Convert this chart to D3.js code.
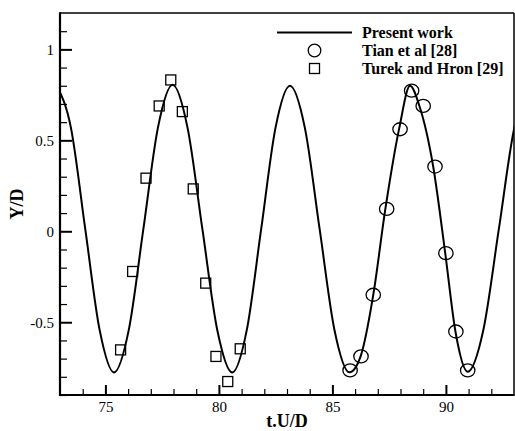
<!DOCTYPE html>
<html>
<head>
<meta charset="utf-8">
<script src="https://cdn.jsdelivr.net/npm/d3@7/dist/d3.min.js"></script>
<style>
  html, body { margin: 0; padding: 0; background: #fff; }
  svg { display: block; }
  text { font-family: "Liberation Serif", "Times New Roman", serif; fill: #000; }
</style>
</head>
<body>
<svg id="chart" width="515" height="431"></svg>
<script>
// Present work: transverse displacement history (t.U/D, Y/D)
const presentT = [72.85, 73.48, 74.115, 74.75, 75.38,
                  76.025, 76.67, 77.315, 77.96,
                  78.6175, 79.275, 79.9325, 80.59,
                  81.225, 81.86, 82.495, 83.13,
                  83.785, 84.44, 85.095, 85.75,
                  86.25, 86.8, 87.33, 87.95, 88.42,
                  88.83, 89.44, 89.97, 90.42, 90.96,
                  91.645, 92.33, 93.015, 93.7];
const presentY = [0.80, 0.57, 0.01, -0.545, -0.776,
                  -0.545, 0.01, 0.57, 0.805,
                  0.57, 0.01, -0.545, -0.776,
                  -0.545, 0.01, 0.57, 0.80,
                  0.57, 0.01, -0.545, -0.775,
                  -0.685, -0.35, 0.12, 0.57, 0.80,
                  0.69, 0.356, -0.12, -0.551, -0.772,
                  -0.545, 0.01, 0.57, 0.80];

// Tian et al [28]
const tianT = [85.78, 86.26, 86.8, 87.39, 87.98, 88.49, 89.0, 89.52, 90.0, 90.44, 90.96];
const tianY = [-0.765, -0.688, -0.349, 0.123, 0.561, 0.773, 0.689, 0.356, -0.12, -0.551, -0.765];

// Turek and Hron [29]
const turekT = [75.67, 76.2, 76.79, 77.37, 77.88, 78.39, 78.87, 79.42, 79.87, 80.39, 80.94];
const turekY = [-0.652, -0.221, 0.292, 0.689, 0.832, 0.658, 0.233, -0.285, -0.688, -0.826, -0.646];

// Axis ticks
const xMajor = [75, 80, 85, 90];
const xMinor = [74, 76, 77, 78, 79, 81, 82, 83, 84, 86, 87, 88, 89, 91, 92];
const yMajor = [-0.5, 0, 0.5, 1];
const yMajorLabels = ["-0.5", "0", "0.5", "1"];
const yMinor = [-0.9, -0.8, -0.7, -0.6, -0.4, -0.3, -0.2, -0.1, 0.1, 0.2, 0.3, 0.4, 0.6, 0.7, 0.8, 0.9, 1.1];

const legendLabels = ["Present work", "Tian et al [28]", "Turek and Hron [29]"];

const svg = d3.select("#chart");
const L = 60, R = 514, T = 13, B = 395;

const x = d3.scaleLinear().domain([73, 93]).range([L, R]);
const y = d3.scaleLinear().domain([-0.9, 1.2]).range([B, T]);

svg.append("defs").append("clipPath").attr("id", "plotArea")
  .append("rect").attr("x", L).attr("y", T).attr("width", R - L).attr("height", B - T);

// minor ticks
svg.append("g").attr("transform", `translate(0,${B})`)
  .call(d3.axisBottom(x).tickValues(xMinor).tickSize(-6).tickFormat(""))
  .call(g => g.select(".domain").remove())
  .call(g => g.selectAll("line").attr("stroke", "#000").attr("stroke-width", 1.2));
svg.append("g").attr("transform", `translate(${L},0)`)
  .call(d3.axisLeft(y).tickValues(yMinor).tickSize(-7).tickFormat(""))
  .call(g => g.select(".domain").remove())
  .call(g => g.selectAll("line").attr("stroke", "#000").attr("stroke-width", 1.2));

// major ticks with labels
svg.append("g").attr("transform", `translate(0,${B})`)
  .call(d3.axisBottom(x).tickValues(xMajor).tickSize(-10).tickPadding(6).tickFormat(d3.format("d")))
  .call(g => g.select(".domain").remove())
  .call(g => g.selectAll("line").attr("stroke", "#000").attr("stroke-width", 2))
  .call(g => g.selectAll("text").attr("font-size", 15).attr("font-family", "Liberation Serif, serif"));
svg.append("g").attr("transform", `translate(${L},0)`)
  .call(d3.axisLeft(y).tickValues(yMajor).tickSize(-12).tickPadding(6)
    .tickFormat(d => yMajorLabels[yMajor.indexOf(d)]))
  .call(g => g.select(".domain").remove())
  .call(g => g.selectAll("line").attr("stroke", "#000").attr("stroke-width", 2))
  .call(g => g.selectAll("text").attr("font-size", 15).attr("font-family", "Liberation Serif, serif"));

// frame
svg.append("line").attr("x1", L).attr("x2", R).attr("y1", T).attr("y2", T).attr("stroke", "#000").attr("stroke-width", 1.5);
svg.append("line").attr("x1", R).attr("x2", R).attr("y1", T).attr("y2", B).attr("stroke", "#000").attr("stroke-width", 1.5);
svg.append("line").attr("x1", L).attr("x2", R + 0.75).attr("y1", B).attr("y2", B).attr("stroke", "#000").attr("stroke-width", 2.2);
svg.append("line").attr("x1", L).attr("x2", L).attr("y1", T - 0.75).attr("y2", B + 1).attr("stroke", "#000").attr("stroke-width", 2.2);

// present work curve
const line = d3.line()
  .x((d, i) => x(presentT[i]))
  .y((d, i) => y(presentY[i]))
  .curve(d3.curveMonotoneX);
svg.append("path")
  .attr("clip-path", "url(#plotArea)")
  .attr("d", line(presentT))
  .attr("fill", "none").attr("stroke", "#000").attr("stroke-width", 2);

// Tian et al circles
svg.append("g").selectAll("ellipse").data(tianT).join("ellipse")
  .attr("cx", (d) => x(d))
  .attr("cy", (d, i) => y(tianY[i]))
  .attr("rx", 7.2).attr("ry", 6.5)
  .attr("fill", "none").attr("stroke", "#000").attr("stroke-width", 1.3);

// Turek and Hron squares
const sq = 10;
svg.append("g").selectAll("rect").data(turekT).join("rect")
  .attr("x", (d) => x(d) - sq / 2)
  .attr("y", (d, i) => y(turekY[i]) - sq / 2)
  .attr("width", sq).attr("height", sq)
  .attr("fill", "none").attr("stroke", "#000").attr("stroke-width", 1.3);

// legend
const lg = svg.append("g").attr("font-weight", "bold").attr("font-size", 16);
lg.append("line").attr("x1", 277).attr("x2", 352).attr("y1", 32.5).attr("y2", 32.5)
  .attr("stroke", "#000").attr("stroke-width", 2);
lg.append("ellipse").attr("cx", 314.5).attr("cy", 50.5).attr("rx", 6.3).attr("ry", 6.3)
  .attr("fill", "none").attr("stroke", "#000").attr("stroke-width", 1.3);
lg.append("rect").attr("x", 309.5).attr("y", 63.5).attr("width", 10).attr("height", 10)
  .attr("fill", "none").attr("stroke", "#000").attr("stroke-width", 1.3);
lg.selectAll("text").data(legendLabels).join("text")
  .attr("x", 362).attr("y", (d, i) => 37.5 + i * 18)
  .text(d => d);

// axis titles
svg.append("text").attr("x", (L + R) / 2).attr("y", 427)
  .attr("text-anchor", "middle").attr("font-weight", "bold").attr("font-size", 18)
  .text("t.U/D");
svg.append("text").attr("transform", `translate(23,${(T + B) / 2}) rotate(-90)`)
  .attr("text-anchor", "middle").attr("font-weight", "bold").attr("font-size", 18)
  .text("Y/D");
</script>
</body>
</html>
